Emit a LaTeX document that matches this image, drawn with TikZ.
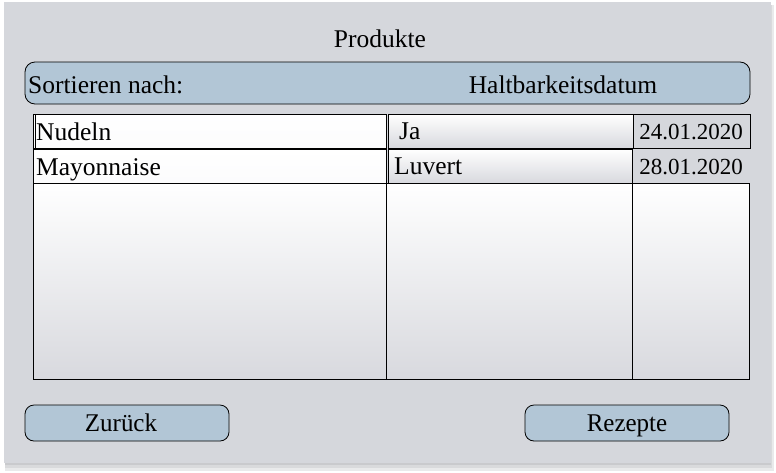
\documentclass[tikz,border=0pt]{standalone}
\usepackage{fontspec}
\setmainfont{Liberation Serif}
\usetikzlibrary{positioning}
\definecolor{panel}{HTML}{D5D7DC}
\definecolor{barblue}{HTML}{B2C6D6}
\definecolor{cellbot}{HTML}{D8D9DE}
\definecolor{shadowc}{HTML}{C9CACD}
\tikzset{
  cell/.style={draw=black, line width=0.9pt, top color=white, bottom color=cellbot},
  wcell/.style={draw=black, line width=0.9pt, top color=white, bottom color=white!92!cellbot},
  gcell/.style={fill=panel},
  btn/.style={draw=black, line width=0.8pt, fill=barblue, rounded corners=9pt},
  txt/.style={inner sep=0pt, anchor=base, font=\fontsize{25.5}{28}\selectfont},
  btxt/.style={txt, xscale=0.98, transform shape},
}
\begin{document}
\begin{tikzpicture}[x=1pt,y=-1pt]
\useasboundingbox (0,0) rectangle (776,472);
\fill[white] (0,0) rectangle (776,472);
% shadow
\fill[shadowc!40] (5,5) rectangle (774,471);
\fill[shadowc!70] (5,5) rectangle (772,468);
\fill[shadowc] (5,5) rectangle (771,465);
% panel
\fill[panel] (4,2) rectangle (771,463);
\node[txt] (title) at (380,47) {Produkte};
% sort bar
\draw[btn, rounded corners=10pt] (25,62) rectangle (750,104);
\node[txt, anchor=base west] (sortl) at (28,93) {Sortieren nach:};
\node[txt] (sortv) at (563,93) {Haltbarkeitsdatum};
% empty cells
\draw[cell] (33,183) rectangle (386,379);
\draw[cell] (386,183) rectangle (632,379);
\draw[cell] (632,183) rectangle (749,379);
% rows
\draw[wcell] (33,114) rectangle (386,148);
\draw[black, line width=0.6pt] (35,114) -- (35,148);
\draw[wcell] (33,149) rectangle (386,183);
\draw[cell] (388,114) rectangle (633,148);
\draw[cell] (388,149) rectangle (632,183);
\draw[gcell, draw=black, line width=0.9pt] (633,114) rectangle (750,148);
\fill[gcell] (633,150) rectangle (750,182);
\node[txt, anchor=base west] (nud) at (36,140) {Nudeln};
\node[txt, anchor=base west] (mayo) at (36,175) {Mayonnaise};
\node[txt, anchor=base west] (ja) at (399,139) {Ja};
\node[txt, anchor=base west] (luv) at (394,174) {Luvert};
\node[txt, font=\fontsize{23}{26}\selectfont] (d1) at (691,139) {24.01.2020};
\node[txt, font=\fontsize{23}{26}\selectfont] (d2) at (691,174) {28.01.2020};
% buttons
\draw[btn] (25,405) rectangle (229,441);
\node[btxt] (zur) at (121,431) {Zurück};
\draw[btn] (525,405) rectangle (729,441);
\node[btxt] (rez) at (627,431) {Rezepte};
\end{tikzpicture}
\end{document}
